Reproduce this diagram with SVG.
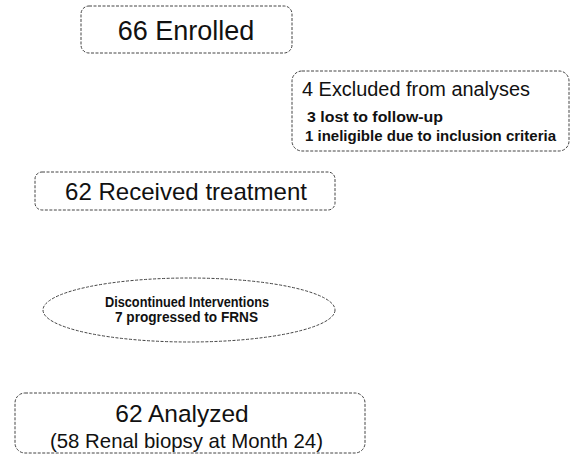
<svg xmlns="http://www.w3.org/2000/svg" width="571" height="455" viewBox="0 0 571 455">
<style>
.box{fill:#fff;stroke:#444;stroke-width:1;stroke-dasharray:3 1.5}
.t{font-family:"Liberation Sans",Arial,sans-serif;fill:#111}
.b{font-weight:bold}
</style>
<rect width="571" height="455" fill="#fff"/>
<g id="enrolled">
<rect class="box" x="81" y="6" width="211" height="47" rx="8"/>
<text class="t" x="186" y="40" font-size="27" text-anchor="middle">66 Enrolled</text>
</g>
<g id="excluded">
<rect class="box" x="292" y="71" width="277" height="80" rx="10"/>
<text class="t" x="302" y="96" font-size="20" textLength="228" lengthAdjust="spacingAndGlyphs">4 Excluded from analyses</text>
<text class="t b" x="307" y="122" font-size="14.5" textLength="136" lengthAdjust="spacingAndGlyphs">3 lost to follow-up</text>
<text class="t b" x="305" y="141" font-size="14.5" textLength="251" lengthAdjust="spacingAndGlyphs">1 ineligible due to inclusion criteria</text>
</g>
<g id="treatment">
<rect class="box" x="35" y="172" width="300" height="38" rx="7"/>
<text class="t" x="65" y="200" font-size="24" textLength="242" lengthAdjust="spacingAndGlyphs">62 Received  treatment</text>
</g>
<g id="discontinued">
<ellipse class="box" cx="189" cy="310" rx="146" ry="32"/>
<text class="t b" x="105" y="307" font-size="14" textLength="164" lengthAdjust="spacingAndGlyphs">Discontinued Interventions</text>
<text class="t b" x="115" y="322" font-size="14" textLength="143" lengthAdjust="spacingAndGlyphs">7 progressed to FRNS</text>
</g>
<g id="analyzed">
<rect class="box" x="15" y="393" width="350" height="60" rx="10"/>
<text class="t" x="182" y="422" font-size="24.5" text-anchor="middle">62 Analyzed</text>
<text class="t" x="50" y="448" font-size="20.3" textLength="273" lengthAdjust="spacingAndGlyphs">(58 Renal biopsy at Month 24)</text>
</g>
<g id="connectors"></g>
</svg>
